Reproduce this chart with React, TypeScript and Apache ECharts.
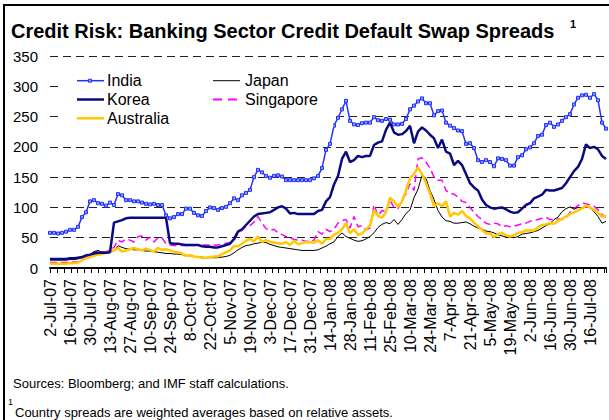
import React, { useEffect, useRef } from 'react';
import * as echarts from 'echarts';

const xTickLabels = [
  '2-Jul-07', '16-Jul-07', '30-Jul-07', '13-Aug-07', '27-Aug-07', '10-Sep-07', '24-Sep-07',
  '8-Oct-07', '22-Oct-07', '5-Nov-07', '19-Nov-07', '3-Dec-07', '17-Dec-07', '31-Dec-07',
  '14-Jan-08', '28-Jan-08', '11-Feb-08', '25-Feb-08', '10-Mar-08', '24-Mar-08', '7-Apr-08',
  '21-Apr-08', '5-May-08', '19-May-08', '2-Jun-08', '16-Jun-08', '30-Jun-08', '16-Jul-08',
];

const india = [
  58, 58, 57, 58, 60, 63, 63, 68, 84, 92,
  110, 112, 107, 106, 103, 108, 104, 122, 120, 112,
  112, 110, 110, 108, 106, 105, 106, 104, 104, 87,
  82, 84, 89, 89, 98, 98, 91, 87, 86, 94,
  100, 99, 96, 99, 101, 107, 115, 112, 120, 124,
  129, 150, 162, 158, 152, 149, 152, 153, 151, 145,
  145, 145, 145, 145, 145, 145, 148, 152, 165, 195,
  205, 235, 248, 262, 276, 243, 237, 236, 239, 240,
  240, 249, 244, 243, 246, 245, 237, 237, 238, 246,
  262, 268, 275, 280, 272, 272, 252, 259, 260, 240,
  235, 231, 227, 226, 205, 206, 198, 178, 175, 178,
  175, 168, 181, 180, 178, 169, 169, 183, 186, 196,
  199, 206, 218, 220, 236, 240, 233, 237, 243, 249,
  254, 270, 281, 285, 286, 281, 287, 277, 240, 230,
];

const korea = [
  15, 15, 15, 15, 15, 16, 16, 17, 18, 21,
  22, 24, 25, 25, 25, 26, 75, 77, 79, 82,
  83, 83, 83, 83, 83, 83, 83, 83, 83, 83,
  41, 40, 40, 39, 38, 38, 38, 38, 36, 35,
  35, 34, 34, 36, 38, 40, 48, 60, 64, 71,
  78, 85, 89, 90, 91, 92, 96, 100, 102, 98,
  90, 91, 89, 89, 89, 89, 89, 94, 96, 110,
  117, 138, 152, 180, 192, 175, 178, 185, 183, 185,
  185, 203, 207, 209, 228, 240, 224, 220, 221, 226,
  235, 206, 225, 232, 227, 220, 214, 198, 212, 192,
  189, 170, 177, 170, 155, 140, 133, 128, 113, 104,
  100, 98, 99, 100, 97, 93, 91, 92, 98, 104,
  107, 115, 118, 121, 129, 128, 128, 130, 132, 140,
  150, 160, 167, 180, 204, 198, 200, 196, 185, 180,
];

const japan = [
  13, 13, 13, 13, 13, 14, 14, 15, 17, 20,
  22, 27, 29, 26, 25, 27, 29, 37, 34, 32,
  31, 30, 30, 29, 28, 28, 27, 26, 25, 24,
  24, 23, 23, 22, 21, 20, 19, 18, 18, 17,
  17, 17, 17, 18, 19, 21, 25, 30, 34, 37,
  38, 40, 41, 43, 42, 39, 37, 35, 34, 33,
  32, 31, 30, 29, 29, 29, 29, 30, 33, 36,
  40, 43, 52, 58, 52, 49, 46, 44, 45, 48,
  52, 58, 67, 72, 75, 73, 80, 72, 80, 90,
  96, 116, 130, 153, 148, 128, 113, 95, 84, 78,
  77, 74, 74, 75, 76, 73, 69, 66, 64, 61,
  60, 58, 55, 53, 51, 51, 50, 52, 56, 57,
  58, 60, 62, 66, 70, 73, 80, 84, 93, 98,
  101, 97, 100, 99, 103, 99, 93, 85, 74, 77,
];

const singapore = [
  9, 9, 9, 9, 9, 10, 10, 10, 15, 18,
  22, 26, 27, 27, 27, 30, 34, 46, 43, 48,
  46, 43, 52, 53, 46, 51, 43, 50, 50, 40,
  38, 37, 37, 37, 37, 37, 37, 38, 38, 38,
  38, 38, 38, 39, 41, 42, 45, 57, 62, 69,
  70, 76, 85, 74, 65, 62, 64, 58, 55, 52,
  50, 47, 46, 46, 44, 44, 46, 60, 56, 64,
  60, 64, 74, 78, 80, 66, 85, 68, 70, 63,
  66, 104, 86, 95, 93, 112, 100, 98, 112, 123,
  139, 128, 180, 182, 175, 165, 150, 145, 145, 128,
  123, 122, 117, 110, 108, 100, 92, 85, 80, 74,
  72, 74, 73, 68, 70, 68, 69, 71, 73, 74,
  77, 79, 80, 82, 84, 80, 80, 81, 80, 82,
  92, 98, 103, 107, 106, 104, 102, 96, 88, 84,
];

const australia = [
  7, 7, 7, 7, 7, 8, 8, 9, 13, 16,
  18, 20, 22, 23, 25, 27, 29, 33, 27, 29,
  31, 33, 31, 29, 32, 30, 27, 33, 30, 31,
  29, 27, 26, 24, 20, 21, 19, 18, 17, 17,
  18, 19, 19, 23, 26, 29, 36, 36, 40, 45,
  48, 44, 52, 43, 46, 43, 42, 41, 40, 43,
  38, 45, 39, 41, 43, 42, 42, 46, 40, 48,
  48, 55, 58, 64, 74, 57, 64, 55, 57, 64,
  70, 96, 86, 83, 92, 116, 110, 101, 110, 128,
  148, 155, 166, 155, 140, 123, 102, 107, 102, 110,
  85, 91, 88, 94, 86, 82, 75, 69, 63, 57,
  57, 51, 56, 58, 54, 52, 54, 58, 59, 62,
  62, 62, 67, 71, 72, 74, 73, 78, 81, 85,
  89, 92, 95, 98, 103, 100, 96, 91, 85, 86,
];

const yTicks = { min: 0, max: 350, interval: 50 };

const FONT = '"Liberation Sans", Arial, Helvetica, sans-serif';
const C_INDIA = '#2233ff';
const C_INDIA_FILL = '#8f9bff';
const C_KOREA = '#0a0a80';
const C_JAPAN = '#000000';
const C_SING = '#ff00ff';
const C_AUS = '#ffc800';

export default function App() {
  const ref = useRef<HTMLDivElement>(null);

  useEffect(() => {
    if (!ref.current) return;
    const chart = echarts.init(ref.current, null, { renderer: 'svg' });
    const n = india.length;
    const categories = india.map((_, i) => String(i));

    const txt = (x: number, y: number, text: string, size: number, weight = 'normal', z = 11) => ({
      type: 'text', x, y, z,
      style: { text, fontSize: size, fontWeight: weight, fontFamily: FONT, fill: '#000', align: 'left', verticalAlign: 'middle' },
    });
    const legLine = (x: number, y: number, color: string, width: number, dash?: number[]) => ({
      type: 'line', z: 11,
      shape: { x1: x, y1: y, x2: x + 27, y2: y },
      style: { stroke: color, lineWidth: width, lineDash: dash || null },
    });

    const option: any = {
      animation: false,
      backgroundColor: '#ffffff',
      grid: { left: 50, right: 3, top: 56, bottom: 152 },
      xAxis: [
        {
          type: 'category',
          data: categories,
          boundaryGap: false,
          axisLine: { show: true, lineStyle: { color: '#000', width: 2 } },
          axisTick: { show: false },
          splitLine: { show: false },
          axisLabel: {
            interval: (idx: number) => idx % 5 === 0,
            formatter: (_v: string, idx: number) => (idx % 5 === 0 ? xTickLabels[idx / 5] || '' : ''),
            rotate: 90,
            fontSize: 16,
            fontFamily: FONT,
            color: '#000',
            margin: 11,
          },
        },
        {
          type: 'value',
          min: 0,
          max: n - 1,
          interval: 1.7325,
          position: 'bottom',
          axisLine: { show: false },
          axisTick: { show: true, length: 5, lineStyle: { color: '#000', width: 1 } },
          axisLabel: { show: false },
          splitLine: { show: false },
        },
      ],
      yAxis: {
        type: 'value',
        min: yTicks.min,
        max: yTicks.max,
        interval: yTicks.interval,
        axisLine: { show: false },
        axisTick: { show: false },
        axisLabel: { fontSize: 15, fontFamily: FONT, color: '#000', margin: 12 },
        splitLine: { show: true, lineStyle: { color: '#222', width: 1, type: [8, 5] } },
      },
      series: [
        {
          name: 'Singapore', type: 'line', data: singapore, showSymbol: false, silent: true,
          lineStyle: { color: C_SING, width: 1.5, type: [7, 4] },
        },
        {
          name: 'Japan', type: 'line', data: japan, showSymbol: false, silent: true,
          lineStyle: { color: C_JAPAN, width: 1 },
        },
        {
          name: 'Australia', type: 'line', data: australia, showSymbol: false, silent: true,
          lineStyle: { color: C_AUS, width: 2.5 },
        },
        {
          name: 'Korea', type: 'line', data: korea, showSymbol: false, silent: true,
          lineStyle: { color: C_KOREA, width: 2.5 },
        },
        {
          name: 'India', type: 'line', data: india, silent: true,
          showSymbol: true, showAllSymbol: true, symbol: 'rect', symbolSize: 3,
          itemStyle: { color: C_INDIA_FILL, borderColor: C_INDIA, borderWidth: 1 },
          lineStyle: { color: C_INDIA, width: 1.5 },
        },
      ],
      graphic: [
        { type: 'line', z: 20, shape: { x1: 4, y1: 5, x2: 609, y2: 5 }, style: { stroke: '#000', lineWidth: 2 } },
        { type: 'line', z: 20, shape: { x1: 4, y1: 4, x2: 4, y2: 420 }, style: { stroke: '#000', lineWidth: 2 } },
        txt(11, 31, 'Credit Risk: Banking Sector Credit Default Swap Spreads', 20, 'bold'),
        txt(570, 24, '1', 11, 'bold'),
        { type: 'rect', z: 10, shape: { x: 60, y: 66, width: 273, height: 62 }, style: { fill: '#fff' } },
        legLine(77, 80.7, C_INDIA, 1.5),
        { type: 'rect', z: 12, shape: { x: 88.5, y: 79.2, width: 3, height: 3 }, style: { fill: C_INDIA_FILL, stroke: C_INDIA, lineWidth: 1 } },
        txt(107, 80.7, 'India', 16),
        legLine(77, 99.5, C_KOREA, 2.5),
        txt(107, 99.5, 'Korea', 16),
        legLine(77, 118.3, C_AUS, 2.5),
        txt(107, 118.3, 'Australia', 16),
        legLine(213, 80.7, C_JAPAN, 1),
        txt(245, 80.7, 'Japan', 16),
        legLine(213, 99.5, C_SING, 1.8, [9, 6]),
        txt(245, 99.5, 'Singapore', 16),
        txt(13, 383, 'Sources: Bloomberg; and IMF staff calculations.', 13),
        txt(8, 402, '1', 9),
        txt(15, 412, 'Country spreads are weighted averages based on relative assets.', 13),
      ],
    };

    chart.setOption(option);
    return () => chart.dispose();
  }, []);

  return (
    <div
      ref={ref}
      style={{ position: 'fixed', left: 0, top: 0, width: 609, height: 420, background: '#fff' }}
    />
  );
}
